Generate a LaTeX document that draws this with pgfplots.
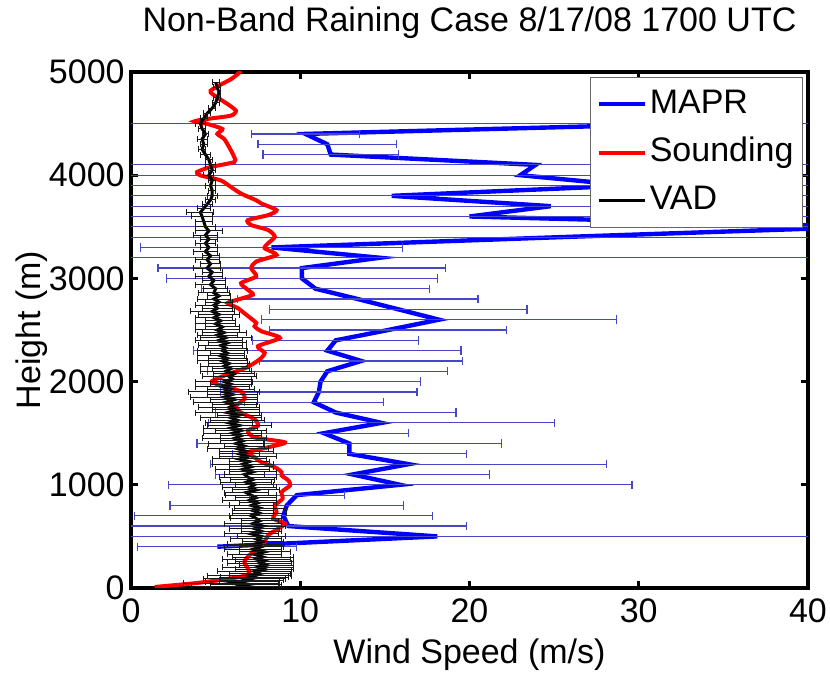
\documentclass[border=0pt]{standalone}
\usepackage{pgfplots}
\usepackage{pgfplotstable}
\pgfplotsset{compat=1.18}
\usepackage{fontspec}
\setmainfont{Liberation Sans}
\definecolor{errblue}{RGB}{70,70,200}

\pgfplotstableread{
h x e
4500 33.3 45
4400 10.3 3.2
4300 11.6 4.1
4200 11.8 4.0
4100 23.9 45
4000 23.0 45
3900 29.4 45
3800 15.4 45
3700 24.8 45
3600 20.0 45
3500 43.4 45
3400 25.4 45
3300 8.3 7.75
3200 14.7 45
3100 10.1 8.5
3000 10.1 8.0
2900 10.9 6.75
2800 13.4 7.1
2700 15.8 7.6
2600 18.2 10.5
2500 15.2 7.0
2400 12.1 4.9
2300 11.6 7.9
2200 13.6 6.0
2100 11.6 7.1
2000 11.2 5.9
1900 11.1 5.8
1800 10.8 4.1
1700 12.1 7.1
1600 14.8 10.2
1500 11.4 5.0
1400 12.9 9.0
1300 12.9 6.9
1200 16.4 11.7
1100 13.1 8.1
1000 15.9 13.7
900 9.8 2.8
800 9.2 6.9
700 9.0 8.8
600 9.3 10.5
500 18.1 45
400 5.1 4.7
}\mapr

\pgfplotstableread{
h x
10 1.4
46 3.75
78 5.3
110 6.5
142 7.0
190 6.9
255 6.7
319 7.0
383 7.5
447 7.9
512 8.1
576 8.7
624 9.1
672 8.4
737 8.6
801 8.5
865 8.96
930 8.9
994 9.4
1042 9.3
1090 8.9
1122 8.9
1171 8.5
1219 7.7
1266 7.3
1315 6.9
1363 8.1
1411 9.1
1459 7.3
1524 6.9
1572 7.5
1636 7.3
1700 6.5
1765 6.2
1829 6.7
1893 6.6
1941 5.9
1974 5.1
2006 4.8
2070 5.7
2134 6.8
2215 7.6
2279 7.9
2343 7.5
2424 8.8
2488 7.7
2536 7.3
2569 7.4
2649 6.8
2713 6.3
2761 5.7
2794 6.3
2842 7.2
2890 6.9
2954 6.5
3019 7.4
3099 7.1
3163 7.4
3228 8.6
3292 7.9
3340 8.1
3404 8.5
3469 8.1
3517 7.1
3565 6.9
3613 8.1
3661 8.6
3726 7.7
3757 7.4
3822 6.5
3886 5.9
3950 5.3
3998 4.1
4031 3.9
4079 4.7
4127 6.1
4175 6.1
4272 5.8
4352 5.5
4400 5.1
4448 5.4
4497 4.5
4522 3.75
4545 4.5
4577 5.9
4625 6.2
4690 5.7
4754 5.1
4818 4.7
4930 5.9
4979 6.3
5010 6.5
}\sounding

\pgfplotstableread{
h x e
15 6.2 2.6
30 6.8 2.1
45 5.9 2.8
60 6.6 2.2
75 7.1 1.9
90 6.7 2.4
105 7.3 2.0
120 7.0 2.5
140 7.6 1.8
160 7.3 2.2
180 7.9 1.7
200 7.5 2.1
220 8.0 1.6
240 7.6 1.9
260 7.9 1.7
280 7.4 2.0
300 7.8 1.8
325 7.3 1.6
350 7.9 1.5
375 7.2 1.7
400 7.7 1.3
425 7.3 1.6
450 7.8 1.2
475 7.4 1.5
500 7.7 1.4
525 7.1 1.6
550 7.7 1.2
575 7.3 1.5
600 7.8 1.3
625 7.2 1.7
650 7.6 1.1
675 7.4 1.5
700 7.1 1.3
725 7.6 1.6
750 7.2 1.2
775 7.6 1.5
800 7.1 1.3
825 7.5 1.1
850 7.0 1.6
875 7.4 1.2
900 7.1 1.5
925 6.8 1.3
950 7.4 1.4
975 7.0 1.6
1000 7.3 1.1
1025 6.8 1.5
1050 7.2 1.3
1075 6.9 1.7
1100 6.7 1.2
1125 7.2 1.4
1150 6.6 1.6
1175 7.1 1.3
1200 6.6 1.8
1225 7.0 1.2
1250 6.4 1.6
1275 6.9 1.7
1300 6.4 1.2
1325 6.8 1.6
1350 6.3 1.8
1375 6.7 1.2
1400 6.2 1.6
1425 6.6 1.3
1450 6.1 1.9
1475 6.5 1.2
1500 6.0 1.7
1525 6.5 1.5
1550 5.9 1.6
1575 6.4 1.9
1600 5.8 1.4
1625 6.3 1.6
1650 5.9 1.8
1675 6.4 1.3
1700 5.7 1.9
1725 6.2 1.4
1750 5.8 1.8
1775 6.1 1.3
1800 5.6 1.9
1825 6.1 1.4
1850 5.5 2.0
1875 6.0 1.5
1900 5.5 2.1
1925 5.9 1.4
1950 5.4 1.6
1975 5.9 1.2
2000 5.5 1.7
2025 6.0 1.1
2050 5.8 1.6
2075 6.1 1.2
2100 5.6 1.5
2125 5.9 1.1
2150 5.5 1.4
2175 5.8 1.2
2200 5.4 1.5
2225 5.7 1.1
2250 5.3 1.4
2275 5.7 1.0
2300 5.4 1.5
2325 5.6 1.2
2350 5.3 1.3
2375 5.7 1.1
2400 5.2 1.4
2425 5.6 1.5
2450 5.1 1.2
2475 5.5 1.3
2500 5.1 1.3
2530 5.4 1.0
2560 5.0 1.2
2590 5.3 0.9
2620 4.9 1.1
2650 5.2 1.2
2680 4.8 1.3
2710 5.1 0.9
2740 4.9 1.1
2770 5.2 0.8
2800 4.9 1.0
2830 5.2 0.7
2860 4.9 0.9
2900 5.0 0.7
2940 4.7 0.9
2980 4.9 0.7
3020 4.6 0.8
3060 4.8 0.6
3100 4.5 0.8
3140 4.7 0.6
3180 4.5 0.7
3220 4.7 0.5
3260 4.4 0.7
3300 4.6 0.5
3340 4.4 0.6
3380 4.6 0.5
3420 4.4 0.7
3460 4.6 0.8
3500 4.4 0.6
3550 4.3 0.5
3600 4.2 0.6
3640 4.1 0.8
3680 4.3 0.4
3720 4.5 0.3
3760 4.7 0.3
3800 4.8 0.3
3850 4.8 0.2
3900 4.7 0.3
3950 4.8 0.2
4000 4.6 0.3
4050 4.8 0.2
4100 4.7 0.3
4150 4.6 0.2
4200 4.4 0.3
4250 4.2 0.2
4300 4.3 0.2
4350 4.2 0.3
4400 4.4 0.2
4450 4.2 0.2
4500 4.1 0.3
4550 4.3 0.2
4600 4.5 0.2
4650 4.8 0.2
4700 5.0 0.2
4750 5.1 0.2
4800 5.2 0.1
4850 5.1 0.2
4900 5.0 0.2
}\vad

\begin{document}
\begin{tikzpicture}
\useasboundingbox (-65.5bp,-43.5bp) rectangle (349.5bp,294bp);
\begin{axis}[
  at={(0,0)}, anchor=origin,
  scale only axis,
  width=338.5bp, height=258bp,
  xmin=0, xmax=40, ymin=0, ymax=5000,
  xtick={0,10,20,30,40},
  ytick={0,1000,2000,3000,4000,5000},
  font=\fontsize{17bp}{20bp}\selectfont,
  /pgf/number format/assume math mode=true,
  /pgf/number format/set thousands separator={},
  tick align=inside,
  major tick length=3.5bp,
  every tick/.style={black, line width=1.4bp},
  axis line style={line width=1.6bp},
  xticklabel style={anchor=base, inner sep=0pt},
  xticklabel shift=17bp,
  yticklabel style={anchor=east, inner sep=0pt},
  yticklabel shift=3bp,
  title={Non-Band Raining Case 8/17/08 1700 UTC},
  title style={at={(axis description cs:0.5,1)}, anchor=base, yshift=14.5bp, inner sep=0pt},
  xlabel={Wind Speed (m/s)},
  xlabel style={at={(axis description cs:0.5,0)}, anchor=base, yshift=-37.5bp, inner sep=0pt},
  ylabel={Height (m)},
  ylabel style={at={(axis description cs:-0.1344,0.5)}, anchor=base, rotate=0, inner sep=0pt},
  legend style={at={(axis description cs:0.9926,0.9903)}, anchor=north east,
    draw=black!60, line width=0.5bp, fill=white,
    inner xsep=3bp, inner ysep=3.2bp, row sep=4bp,
    nodes={inner xsep=1.5bp, inner ysep=2.1bp, text height=12.5bp, text depth=3.5bp},
    font=\fontsize{17bp}{20bp}\selectfont},
  legend cell align=left,
  legend image code/.code={\draw[#1] (0bp,0bp) -- (23bp,0bp);},
]
\addplot[blue, line width=2.2bp,
  error bars/.cd, x dir=both, x explicit,
  error bar style={line width=0.6bp, draw=errblue},
  error mark options={draw=errblue, line width=0.6bp, mark size=2.1bp, rotate=90}]
  table[x=x, y=h, x error=e] {\mapr};
\addplot[red, line width=2bp, smooth, tension=0.4] table[x=x, y=h] {\sounding};
\addplot[black, line width=1.5bp,
  error bars/.cd, x dir=both, x explicit,
  error bar style={line width=0.5bp, draw=black!90},
  error mark options={draw=black!90, line width=0.5bp, mark size=1.5bp, rotate=90}]
  table[x=x, y=h, x error=e] {\vad};
\legend{MAPR,Sounding,VAD}
\end{axis}
\end{tikzpicture}
\end{document}
